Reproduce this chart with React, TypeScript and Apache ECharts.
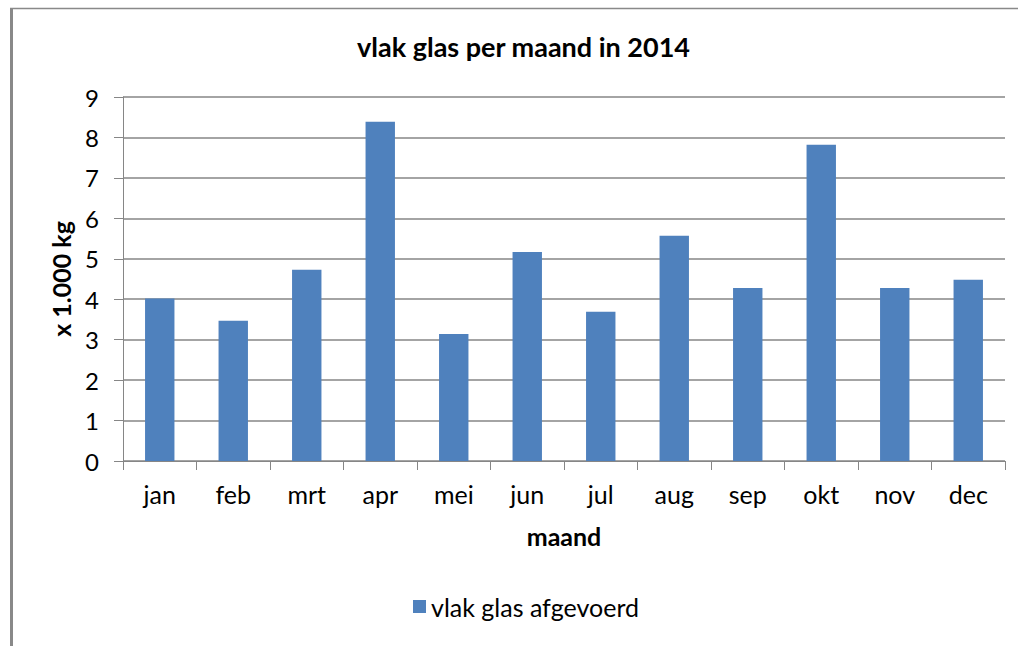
import React, { useEffect, useRef } from "react";
import * as echarts from "echarts";

const categories = ["jan", "feb", "mrt", "apr", "mei", "jun", "jul", "aug", "sep", "okt", "nov", "dec"];
const values = [4.02, 3.47, 4.73, 8.39, 3.14, 5.17, 3.69, 5.57, 4.28, 7.82, 4.28, 4.48];
const seriesName = "vlak glas afgevoerd";
const titleText = "vlak glas per maand in 2014";
const yAxisName = "x 1.000 kg";
const xAxisName = "maand";

const FONT = "Lato, 'Noto Sans', sans-serif";

export default function App() {
  const ref = useRef<HTMLDivElement>(null);
  useEffect(() => {
    const chart = echarts.init(ref.current!, null, { renderer: "svg" });
    chart.setOption({
      animation: false,
      backgroundColor: "#ffffff",
      title: {
        text: titleText,
        left: 352,
        top: 28,
        textStyle: { fontFamily: FONT, fontSize: 27, fontWeight: "bold", color: "#000" },
      },
      legend: {
        bottom: 22,
        left: 408,
        itemWidth: 13,
        itemHeight: 13,
        icon: "rect",
        itemGap: 6,
        textStyle: { fontFamily: FONT, fontSize: 25, color: "#000" },
        data: [seriesName],
      },
      grid: { left: 123, right: 13, top: 97, bottom: 185 },
      xAxis: {
        type: "category",
        data: categories,
        name: xAxisName,
        nameLocation: "middle",
        nameGap: 62,
        nameTextStyle: { fontFamily: FONT, fontSize: 25, fontWeight: "bold", color: "#000" },
        axisLine: { lineStyle: { color: "#868686", width: 1 } },
        axisTick: { show: true, length: 9, alignWithLabel: false, lineStyle: { color: "#868686" } },
        axisLabel: { fontFamily: FONT, fontSize: 25, color: "#000", margin: 20 },
      },
      yAxis: {
        type: "value",
        min: 0,
        max: 9,
        interval: 1,
        name: yAxisName,
        nameLocation: "middle",
        nameGap: 50,
        nameRotate: 90,
        nameTextStyle: { fontFamily: FONT, fontSize: 25, fontWeight: "bold", color: "#000" },
        axisLine: { show: true, lineStyle: { color: "#868686", width: 1 } },
        axisTick: { show: true, length: 9, lineStyle: { color: "#868686" } },
        axisLabel: { fontFamily: FONT, fontSize: 24, color: "#000", margin: 24 },
        splitLine: { show: true, lineStyle: { color: "#868686", width: 1.5 } },
      },
      series: [
        {
          name: seriesName,
          type: "bar",
          data: values,
          barWidth: "40%",
          itemStyle: { color: "#4f81bd" },
        },
      ],
      graphic: [
        { type: "line", shape: { x1: 11.5, y1: 8, x2: 11.5, y2: 646 }, style: { stroke: "#898989", lineWidth: 3 } },
        { type: "line", shape: { x1: 10, y1: 8.5, x2: 1018, y2: 8.5 }, style: { stroke: "#898989", lineWidth: 1.5 } },
      ],
    });
    return () => chart.dispose();
  }, []);
  return <div ref={ref} style={{ position: "absolute", left: 0, top: 0, width: 1018, height: 646 }} />;
}
